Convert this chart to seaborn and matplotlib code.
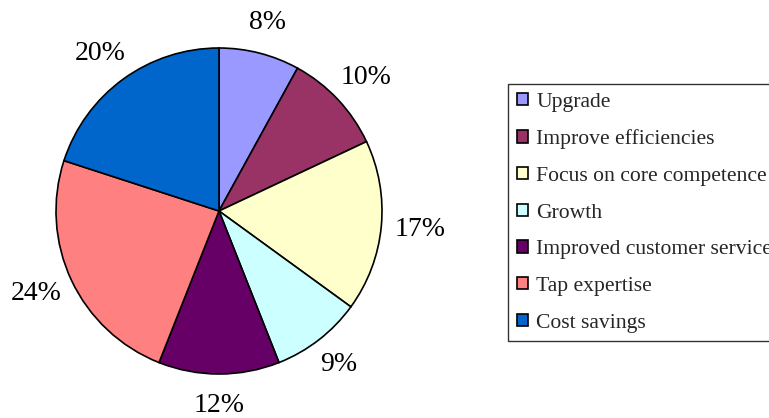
import matplotlib
matplotlib.use("Agg")
import numpy as np
import matplotlib.pyplot as plt
import seaborn as sns
from matplotlib.patches import Patch

categories = ["Upgrade", "Improve efficiencies", "Focus on core competence",
              "Growth", "Improved customer service", "Tap expertise", "Cost savings"]
values = [8, 10, 17, 9, 12, 24, 20]
colors = ["#9999FF", "#993366", "#FFFFCC", "#CCFFFF", "#660066", "#FF8080", "#0066CC"]

sns.set_style("white")
plt.rcParams["font.family"] = ["Liberation Serif", "DejaVu Serif"]

W, H = 769, 418
fig = plt.figure(figsize=(W / 100, H / 100), dpi=100)
cx, cy, r = 219, 211, 163
ax = fig.add_axes([(cx - r) / W, (H - cy - r) / H, 2 * r / W, 2 * r / H])

wedges, texts, autotexts = ax.pie(
    values, colors=colors, startangle=90, counterclock=False,
    autopct=lambda p: f"{p:.0f}%", pctdistance=1.2,
    wedgeprops=dict(edgecolor="black", linewidth=1.2),
    textprops=dict(fontsize=20, color="black"),
)
ax.set_xlim(-1, 1)
ax.set_ylim(-1, 1)
ax.set_aspect("equal")
ax.axis("off")

# place labels outside the pie, Excel-like: box offset from the rim along the mid-angle
fig.canvas.draw()
renderer = fig.canvas.get_renderer()
for w, t in zip(wedges, autotexts):
    ang = np.deg2rad((w.theta1 + w.theta2) / 2)
    ux, uy = np.cos(ang), np.sin(ang)
    bb = t.get_window_extent(renderer)
    hw = bb.width / 2 / r
    hh = bb.height / 2 / r
    d = 1.1
    t.set_position((d * ux + 0.9 * hw * ux, d * uy + 1.2 * hh * uy))
    t.set_ha("center")
    t.set_va("center")

handles = [Patch(facecolor=c, edgecolor="black", linewidth=1.2) for c in colors]
leg = fig.legend(handles, categories, loc="upper left",
                 bbox_to_anchor=(508 / W, 1 - 84 / H), bbox_transform=fig.transFigure,
                 fontsize=15.6, frameon=True, fancybox=False, edgecolor="black",
                 handlelength=0.5, handleheight=0.5, handletextpad=0.41,
                 labelspacing=0.815, borderpad=0.4, borderaxespad=0)
leg.get_frame().set_linewidth(1.0)

fig.savefig("out.png", dpi=100, facecolor="white")
